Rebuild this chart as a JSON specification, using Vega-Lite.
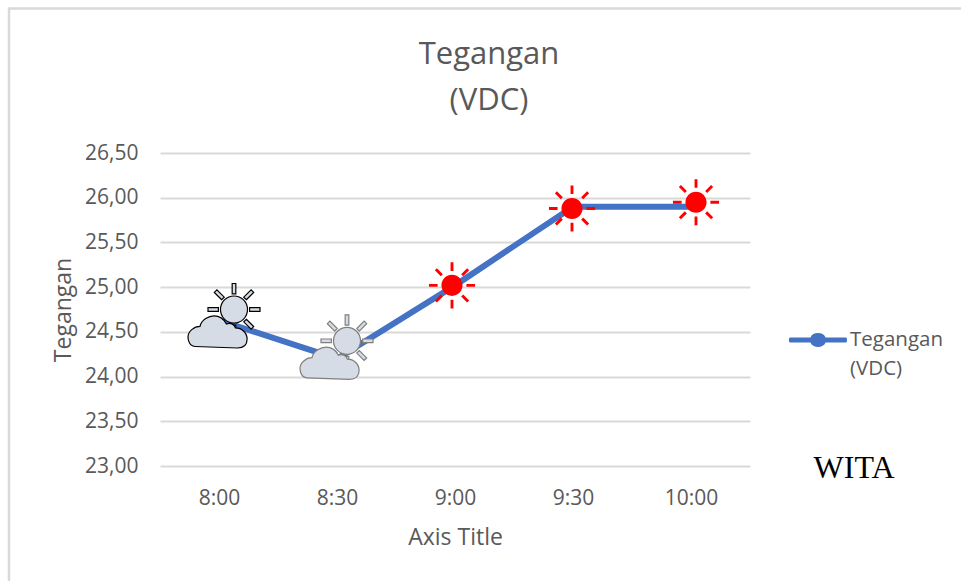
{"$schema":"https://vega.github.io/schema/vega-lite/v6.json","width":590,"height":313,"autosize":"none","padding":{"left":160,"top":153,"right":211,"bottom":115},"background":"white","config":{"locale":{"number":{"decimal":",","thousands":".","grouping":[3],"currency":["","€"]}},"view":{"stroke":null},"font":"Open Sans","style":{"guide-label":{"lineHeight":29}}},"title":{"text":["Tegangan","(VDC)"],"anchor":"middle","dx":34,"offset":-110,"fontSize":31,"fontWeight":"normal","color":"#595959","lineHeight":46},"datasets":{"d":[{"waktu":"8:00","tegangan":24.63,"seri":"Tegangan (VDC)","cuaca":"berawan","ikon":24.75},{"waktu":"8:30","tegangan":24.2,"seri":"Tegangan (VDC)","cuaca":"berawan redup","ikon":24.4},{"waktu":"9:00","tegangan":25.02,"seri":"Tegangan (VDC)","cuaca":"cerah","ikon":25.02},{"waktu":"9:30","tegangan":25.9,"seri":"Tegangan (VDC)","cuaca":"cerah","ikon":25.88},{"waktu":"10:00","tegangan":25.9,"seri":"Tegangan (VDC)","cuaca":"cerah","ikon":25.95}],"note":[{"waktu":"10:00","tegangan":23,"label":"WITA"}],"bingkai":[{"awal":"8:00","akhir":"10:00","atas":26.5,"bawah":23}]},"data":{"name":"d"},"encoding":{"x":{"field":"waktu","type":"ordinal","sort":null,"scale":{"type":"point","padding":0.5,"domain":["8:00","8:30","9:00","9:30","10:00"]},"axis":{"title":"Axis Title","labelAngle":0,"labelFontSize":21,"labelColor":"#595959","titleFontSize":23,"titleColor":"#595959","titleFontWeight":"normal","ticks":false,"domain":false,"labelPadding":21,"titlePadding":18}},"y":{"field":"tegangan","type":"quantitative","scale":{"domain":[23,26.5],"nice":false,"zero":false},"axis":{"title":"Tegangan","format":".2f","values":[23,23.5,24,24.5,25,25.5,26,26.5],"labelFontSize":21,"labelColor":"#595959","titleFontSize":23,"titleColor":"#595959","titleFontWeight":"normal","ticks":false,"domain":false,"gridColor":"#d9d9d9","gridWidth":2,"labelPadding":22,"titlePadding":9}}},"layer":[{"data":{"name":"bingkai"},"mark":{"type":"rule","color":"#d9d9d9","strokeWidth":2.5,"xOffset":-210,"yOffset":-144,"y2Offset":200},"encoding":{"x":{"field":"awal"},"y":{"field":"atas","type":"quantitative"},"y2":{"field":"bawah"}}},{"data":{"name":"bingkai"},"mark":{"type":"rule","color":"#d9d9d9","strokeWidth":2.5,"xOffset":-211,"x2Offset":270,"yOffset":-144.5},"encoding":{"x":{"field":"awal"},"x2":{"field":"akhir"},"y":{"field":"atas","type":"quantitative"}}},{"mark":{"type":"line","strokeWidth":6,"color":"#4472c4"},"encoding":{"color":{"field":"seri","type":"nominal","scale":{"range":["#4472c4"]},"legend":{"title":null,"orient":"none","legendX":630,"legendY":159,"symbolType":"M-1,-0.09C-1.05,-0.09,-1.05,0.09,-1,0.09L-0.27,0.09C-0.2,0.3,0.2,0.3,0.27,0.09L1,0.09C1.05,0.09,1.05,-0.09,1,-0.09L0.27,-0.09C0.2,-0.3,-0.2,-0.3,-0.27,-0.09Z","symbolSize":3136,"symbolStrokeWidth":0,"symbolFillColor":"#4472c4","labelFontSize":20.5,"labelColor":"#595959","labelExpr":"['Tegangan','(VDC)']","labelLimit":150,"labelOffset":4}}}},{"transform":[{"filter":"datum.waktu==='9:00'"}],"mark":{"type":"point","xOffset":-3,"filled":true,"fill":"#ff0000","stroke":null,"opacity":1,"size":2304,"shape":"M0.6,-0.06L0.96,-0.06L0.96,0.06L0.6,0.06ZM-0.6,-0.06L-0.96,-0.06L-0.96,0.06L-0.6,0.06ZM-0.06,0.6L-0.06,0.96L0.06,0.96L0.06,0.6ZM-0.06,-0.6L-0.06,-0.96L0.06,-0.96L0.06,-0.6ZM0.467,0.381L0.715,0.629L0.629,0.715L0.381,0.467ZM-0.467,0.381L-0.715,0.629L-0.629,0.715L-0.381,0.467ZM0.467,-0.381L0.715,-0.629L0.629,-0.715L0.381,-0.467ZM-0.467,-0.381L-0.715,-0.629L-0.629,-0.715L-0.381,-0.467ZM0.44,0C0.44,0.243,0.243,0.44,0,0.44C-0.243,0.44,-0.44,0.243,-0.44,0C-0.44,-0.243,-0.243,-0.44,0,-0.44C0.243,-0.44,0.44,-0.243,0.44,0Z"},"encoding":{"y":{"field":"ikon","type":"quantitative"}}},{"transform":[{"filter":"datum.waktu==='9:30'"}],"mark":{"type":"point","xOffset":-1,"filled":true,"fill":"#ff0000","stroke":null,"opacity":1,"size":2304,"shape":"M0.6,-0.06L0.96,-0.06L0.96,0.06L0.6,0.06ZM-0.6,-0.06L-0.96,-0.06L-0.96,0.06L-0.6,0.06ZM-0.06,0.6L-0.06,0.96L0.06,0.96L0.06,0.6ZM-0.06,-0.6L-0.06,-0.96L0.06,-0.96L0.06,-0.6ZM0.467,0.381L0.715,0.629L0.629,0.715L0.381,0.467ZM-0.467,0.381L-0.715,0.629L-0.629,0.715L-0.381,0.467ZM0.467,-0.381L0.715,-0.629L0.629,-0.715L0.381,-0.467ZM-0.467,-0.381L-0.715,-0.629L-0.629,-0.715L-0.381,-0.467ZM0.44,0C0.44,0.243,0.243,0.44,0,0.44C-0.243,0.44,-0.44,0.243,-0.44,0C-0.44,-0.243,-0.243,-0.44,0,-0.44C0.243,-0.44,0.44,-0.243,0.44,0Z"},"encoding":{"y":{"field":"ikon","type":"quantitative"}}},{"transform":[{"filter":"datum.waktu==='10:00'"}],"mark":{"type":"point","xOffset":5,"filled":true,"fill":"#ff0000","stroke":null,"opacity":1,"size":2304,"shape":"M0.6,-0.06L0.96,-0.06L0.96,0.06L0.6,0.06ZM-0.6,-0.06L-0.96,-0.06L-0.96,0.06L-0.6,0.06ZM-0.06,0.6L-0.06,0.96L0.06,0.96L0.06,0.6ZM-0.06,-0.6L-0.06,-0.96L0.06,-0.96L0.06,-0.6ZM0.467,0.381L0.715,0.629L0.629,0.715L0.381,0.467ZM-0.467,0.381L-0.715,0.629L-0.629,0.715L-0.381,0.467ZM0.467,-0.381L0.715,-0.629L0.629,-0.715L0.381,-0.467ZM-0.467,-0.381L-0.715,-0.629L-0.629,-0.715L-0.381,-0.467ZM0.44,0C0.44,0.243,0.243,0.44,0,0.44C-0.243,0.44,-0.44,0.243,-0.44,0C-0.44,-0.243,-0.243,-0.44,0,-0.44C0.243,-0.44,0.44,-0.243,0.44,0Z"},"encoding":{"y":{"field":"ikon","type":"quantitative"}}},{"transform":[{"filter":"datum.waktu==='8:00'"}],"mark":{"type":"point","xOffset":15,"filled":true,"fill":"#d6dce5","stroke":"#000000","strokeWidth":1.2,"opacity":1,"size":2704,"shape":"M0.6,-0.07L1,-0.07L1,0.07L0.6,0.07ZM-0.6,-0.07L-1,-0.07L-1,0.07L-0.6,0.07ZM-0.07,0.6L-0.07,1L0.07,1L0.07,0.6ZM-0.07,-0.6L-0.07,-1L0.07,-1L0.07,-0.6ZM0.474,0.375L0.757,0.658L0.658,0.757L0.375,0.474ZM-0.474,0.375L-0.757,0.658L-0.658,0.757L-0.375,0.474ZM0.474,-0.375L0.757,-0.658L0.658,-0.757L0.375,-0.474ZM-0.474,-0.375L-0.757,-0.658L-0.658,-0.757L-0.375,-0.474ZM0.52,0C0.52,0.287,0.287,0.52,0,0.52C-0.287,0.52,-0.52,0.287,-0.52,0C-0.52,-0.287,-0.287,-0.52,0,-0.52C0.287,-0.52,0.52,-0.287,0.52,0Z"},"encoding":{"y":{"field":"ikon","type":"quantitative"}}},{"transform":[{"filter":"datum.waktu==='8:00'"}],"mark":{"type":"point","xOffset":-1,"yOffset":22,"filled":true,"fill":"#d6dce5","stroke":"#000000","strokeWidth":1.2,"opacity":1,"size":3600,"shape":"M-0.75,0.5C-0.95,0.5,-1,0.3,-1,0.18C-1,0,-0.8,-0.17,-0.6,-0.17C-0.55,-0.4,-0.3,-0.52,-0.13,-0.52C0.1,-0.52,0.2,-0.4,0.28,-0.25C0.4,-0.3,0.55,-0.25,0.58,-0.12C0.8,-0.12,0.97,0.05,0.97,0.25C0.97,0.45,0.85,0.55,0.65,0.55Z"},"encoding":{"y":{"field":"ikon","type":"quantitative"}}},{"transform":[{"filter":"datum.waktu==='8:30'"}],"mark":{"type":"point","xOffset":10,"filled":true,"fill":"#d6dce5","stroke":"#7f7f7f","strokeWidth":1.2,"opacity":1,"size":2704,"shape":"M0.6,-0.07L1,-0.07L1,0.07L0.6,0.07ZM-0.6,-0.07L-1,-0.07L-1,0.07L-0.6,0.07ZM-0.07,0.6L-0.07,1L0.07,1L0.07,0.6ZM-0.07,-0.6L-0.07,-1L0.07,-1L0.07,-0.6ZM0.474,0.375L0.757,0.658L0.658,0.757L0.375,0.474ZM-0.474,0.375L-0.757,0.658L-0.658,0.757L-0.375,0.474ZM0.474,-0.375L0.757,-0.658L0.658,-0.757L0.375,-0.474ZM-0.474,-0.375L-0.757,-0.658L-0.658,-0.757L-0.375,-0.474ZM0.52,0C0.52,0.287,0.287,0.52,0,0.52C-0.287,0.52,-0.52,0.287,-0.52,0C-0.52,-0.287,-0.287,-0.52,0,-0.52C0.287,-0.52,0.52,-0.287,0.52,0Z"},"encoding":{"y":{"field":"ikon","type":"quantitative"}}},{"transform":[{"filter":"datum.waktu==='8:30'"}],"mark":{"type":"point","xOffset":-7,"yOffset":22,"filled":true,"fill":"#d6dce5","stroke":"#7f7f7f","strokeWidth":1.2,"opacity":1,"size":3600,"shape":"M-0.75,0.5C-0.95,0.5,-1,0.3,-1,0.18C-1,0,-0.8,-0.17,-0.6,-0.17C-0.55,-0.4,-0.3,-0.52,-0.13,-0.52C0.1,-0.52,0.2,-0.4,0.28,-0.25C0.4,-0.3,0.55,-0.25,0.58,-0.12C0.8,-0.12,0.97,0.05,0.97,0.25C0.97,0.45,0.85,0.55,0.65,0.55Z"},"encoding":{"y":{"field":"ikon","type":"quantitative"}}},{"data":{"name":"note"},"mark":{"type":"text","dx":163,"dy":2,"font":"Liberation Serif","fontSize":32,"color":"#000000"},"encoding":{"text":{"field":"label"}}}]}
